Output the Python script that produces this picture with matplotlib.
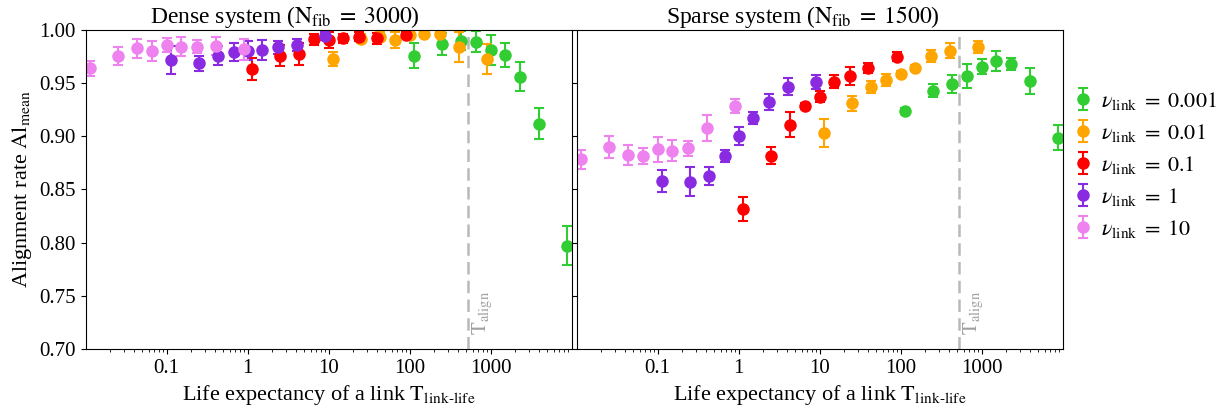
import matplotlib
matplotlib.use('Agg')
import matplotlib.pyplot as plt

plt.rcParams['font.family'] = ['Liberation Serif', 'DejaVu Serif']
plt.rcParams['mathtext.fontset'] = 'stix'

# Link lifetimes for each link rate
T_nu0001 = [112, 251, 430, 665, 1000, 1500, 2320, 3950, 8800]
T_nu001 = [11.2, 25, 43, 67, 100, 152, 236, 405, 910]
T_nu01 = [1.12, 2.5, 4.3, 6.7, 10, 15, 23.5, 40, 90]
T_nu1 = [0.112, 0.25, 0.435, 0.675, 1.01, 1.5, 2.36, 4.05, 9.1]
T_nu10 = [0.0112, 0.025, 0.043, 0.067, 0.101, 0.151, 0.236, 0.405, 0.91]

# Dense system (N_fib = 3000)
dense_0001 = [0.9758, 0.9868, 0.990, 0.989, 0.981, 0.9765, 0.956, 0.912, 0.797]
dense_0001_err = [0.0115, 0.0105, 0.009, 0.010, 0.014, 0.0116, 0.0138, 0.0146, 0.0183]
dense_001 = [0.9727, 0.992, 0.9937, 0.9906, 0.9953, 0.9962, 0.9962, 0.9837, 0.9727]
dense_001_err = [0.007, 0.004, 0.004, 0.0074, 0.003, 0.003, 0.003, 0.014, 0.0138]
dense_01 = [0.963, 0.9758, 0.9774, 0.9912, 0.9906, 0.9922, 0.9937, 0.9922, 0.9953]
dense_01_err = [0.0102, 0.0099, 0.0102, 0.0055, 0.0078, 0.004, 0.004, 0.005, 0.003]
dense_1 = [0.9718, 0.9687, 0.9758, 0.979, 0.9806, 0.9812, 0.9837, 0.9859, 0.9944]
dense_1_err = [0.0134, 0.007, 0.009, 0.0086, 0.009, 0.009, 0.006, 0.006, 0.004]
dense_10 = [0.964, 0.9755, 0.9828, 0.9806, 0.9859, 0.9843, 0.9843, 0.985, 0.9818]
dense_10_err = [0.007, 0.0086, 0.0088, 0.0095, 0.007, 0.0088, 0.0063, 0.0088, 0.0099]

# Sparse system (N_fib = 1500)
sparse_0001 = [0.924, 0.943, 0.9492, 0.9567, 0.9655, 0.9708, 0.9677, 0.952, 0.8987]
sparse_0001_err = [0.003, 0.006, 0.0083, 0.011, 0.007, 0.009, 0.0055, 0.012, 0.0118]
sparse_001 = [0.9034, 0.931, 0.9467, 0.953, 0.9586, 0.964, 0.9755, 0.9806, 0.9843]
sparse_001_err = [0.0133, 0.0072, 0.0055, 0.006, 0.003, 0.003, 0.006, 0.007, 0.0056]
sparse_01 = [0.8317, 0.8818, 0.911, 0.9285, 0.9373, 0.9514, 0.9567, 0.964, 0.9749]
sparse_01_err = [0.0113, 0.0081, 0.012, 0.003, 0.005, 0.0063, 0.0083, 0.0047, 0.0044]
sparse_1 = [0.8583, 0.8574, 0.863, 0.8815, 0.9003, 0.917, 0.9326, 0.9467, 0.9514]
sparse_1_err = [0.0105, 0.0135, 0.0083, 0.0056, 0.0085, 0.0055, 0.0075, 0.0078, 0.0067]
sparse_10 = [0.8784, 0.8897, 0.8824, 0.8815, 0.8878, 0.8865, 0.8887, 0.9081, 0.9288]
sparse_10_err = [0.009, 0.0102, 0.009, 0.0074, 0.0115, 0.0097, 0.007, 0.0124, 0.0067]

nu_labels = ['0.001', '0.01', '0.1', '1', '10']
colors = ['limegreen', 'orange', 'red', 'blueviolet', 'violet']
T_align = 520

T_all = [T_nu0001, T_nu001, T_nu01, T_nu1, T_nu10]
dense = [(dense_0001, dense_0001_err), (dense_001, dense_001_err), (dense_01, dense_01_err),
         (dense_1, dense_1_err), (dense_10, dense_10_err)]
sparse = [(sparse_0001, sparse_0001_err), (sparse_001, sparse_001_err), (sparse_01, sparse_01_err),
          (sparse_1, sparse_1_err), (sparse_10, sparse_10_err)]

fig = plt.figure(figsize=(12.22, 4.12), dpi=100)
ax1 = fig.add_axes([0.0700, 0.1529, 0.3977, 0.7743])
ax2 = fig.add_axes([0.4718, 0.1529, 0.3977, 0.7743], sharey=ax1)

for ax, data, title, tx in [(ax1, dense, r'Dense system ($\mathrm{N_{fib}}\;=\;3000$)', 0.41),
                            (ax2, sparse, r'Sparse system ($\mathrm{N_{fib}}\;=\;1500$)', 0.465)]:
    for T, (vals, errs), c, lab in zip(T_all, data, colors, nu_labels):
        ax.errorbar(T, vals, yerr=errs, fmt='o', color=c, markersize=8,
                    capsize=3.5, elinewidth=1.5, capthick=1.5,
                    label=r'$\nu_{\mathrm{link}}\;=\;%s$' % lab)
    ax.axvline(T_align, color='gray', alpha=0.55, linestyle=(0, (5, 2.5)), linewidth=1.8)
    ax.text(T_align * 1.5, 0.713, r'$\mathrm{T_{align}}$', rotation=90, color='gray',
            alpha=0.75, fontsize=15, ha='center', va='bottom')
    ax.set_xscale('log')
    ax.set_xlim(0.01, 10000)
    ax.set_ylim(0.70, 1.00)
    ax.set_title(title, fontsize=17, pad=4, x=tx)
    ax.set_xlabel(r'Life expectancy of a link $\mathrm{T_{link\text{-}life}}$', fontsize=16)
    ax.set_xticks([0.1, 1, 10, 100, 1000])
    ax.set_xticklabels(['0.1', '1', '10', '100', '1000'])
    ax.tick_params(labelsize=15)

ax1.set_ylabel(r'Alignment rate $\mathrm{Al_{mean}}$', fontsize=16)
ax1.set_yticks([0.70, 0.75, 0.80, 0.85, 0.90, 0.95, 1.00])
ax1.set_yticklabels(['0.70', '0.75', '0.80', '0.85', '0.90', '0.95', '1.00'])
plt.setp(ax2.get_yticklabels(), visible=False)

handles, labels = ax1.get_legend_handles_labels()
fig.legend(handles, labels, loc='center left', bbox_to_anchor=(0.861, 0.60),
           frameon=False, fontsize=16, handlelength=1.0, handletextpad=0.3,
           labelspacing=0.45)

fig.savefig('out.png', dpi=100)
